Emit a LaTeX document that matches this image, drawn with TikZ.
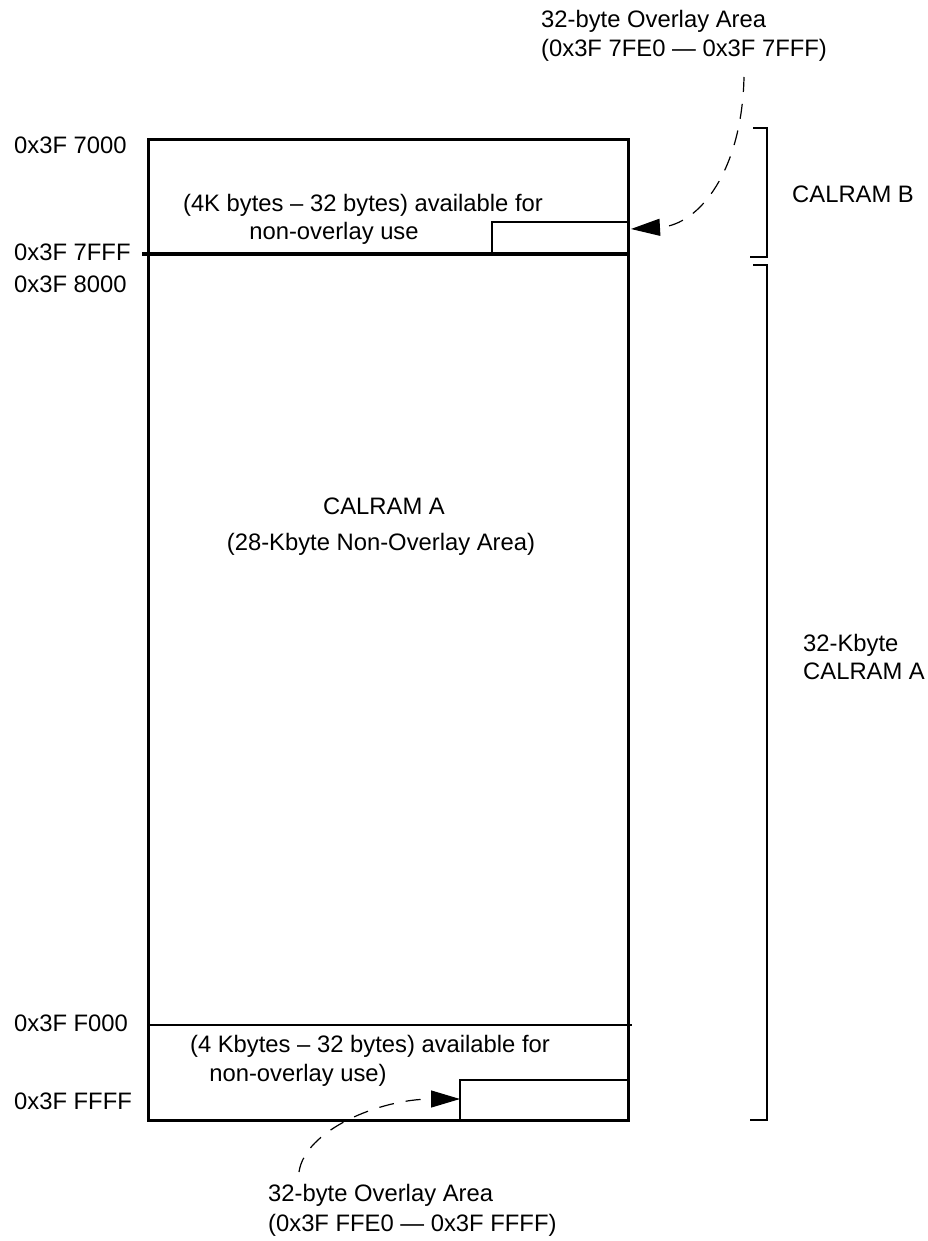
\documentclass[tikz,border=0pt]{standalone}
\usepackage{fontspec}
\setmainfont{Liberation Sans}
\usetikzlibrary{arrows.meta,positioning}
\newcommand{\mapfont}{\fontsize{23.8}{29}\selectfont}
\tikzset{
  map label/.style={inner sep=0pt,font=\mapfont,anchor=base},
  addr label/.style={map label,anchor=base west},
  map edge/.style={line width=3pt},
  map rule/.style={line width=1.8pt},
  overlay edge/.style={line width=2.6pt},
  range edge/.style={line width=2.6pt},
  overlay arrow/.style={line width=1.2pt,dash pattern=on 15pt off 12pt,-{Triangle[length=29pt,width=17pt]}},
}

\begin{document}
\begin{tikzpicture}[x=1pt,y=-1pt]
  \useasboundingbox (0,0) rectangle (928,1241);
  % memory block
  \draw[map edge] (148,140) rectangle (628,1120);
  \draw[map edge] (142,254) -- (628,254);
  \draw[map rule] (148,1025) -- (632,1025);
  \draw[overlay edge] (492,254) |- (628,222);
  \draw[overlay edge] (460,1120) |- (628,1080);
  % addresses
  \node[addr label] (a7000) at (14,153.5) {0x3F 7000};
  \node[addr label] (a7fff) at (14,260) {0x3F 7FFF};
  \node[addr label] (a8000) at (14,292) {0x3F 8000};
  \node[addr label] (af000) at (14,1031) {0x3F F000};
  \node[addr label] (affff) at (14,1109.5) {0x3F FFFF};
  % texts inside
  \node[map label] (freeB1) at (363,212) {(4K bytes -- 32 bytes) available for};
  \node[map label] (freeB2) at (334,240) {non-overlay use};
  \node[map label] (calA1) at (384,514) {CALRAM A};
  \node[map label] (calA2) at (381,550) {(28-Kbyte Non-Overlay Area)};
  \node[map label] (freeA1) at (370,1052) {(4 Kbytes -- 32 bytes) available for};
  \node[map label] (freeA2) at (298,1081) {non-overlay use)};
  % overlay labels
  \node[map label,anchor=base west] (ovB1) at (541,27.5) {32-byte Overlay Area};
  \node[map label,anchor=base west] (ovB2) at (541,56.5) {(0x3F 7FE0 --- 0x3F 7FFF)};
  \node[map label,anchor=base west] (ovA1) at (268,1201) {32-byte Overlay Area};
  \node[map label,anchor=base west] (ovA2) at (268,1231) {(0x3F FFE0 --- 0x3F FFFF)};
  \coordinate (ovB from) at (744,77);
  \coordinate (ovB to) at (631,229);
  \coordinate (ovA from) at (299,1172);
  \coordinate (ovA to) at (460,1099);
  \draw[overlay arrow] (ovB from) .. controls (742,170) and (700,225) .. (ovB to);
  \draw[overlay arrow] (ovA from) .. controls (305,1130) and (380,1099) .. (ovA to);
  % ranges
  \draw[range edge] (753,128) -| (767,257) -- (750,257);
  \draw[range edge] (753,265) -| (767,1120) -- (750,1120);
  \node[map label,anchor=base west] (calB) at (792,203) {CALRAM B};
  \node[map label,anchor=base west] (kA1) at (803,651.5) {32-Kbyte};
  \node[map label,anchor=base west] (kA2) at (803,679) {CALRAM A};
\end{tikzpicture}
\end{document}
